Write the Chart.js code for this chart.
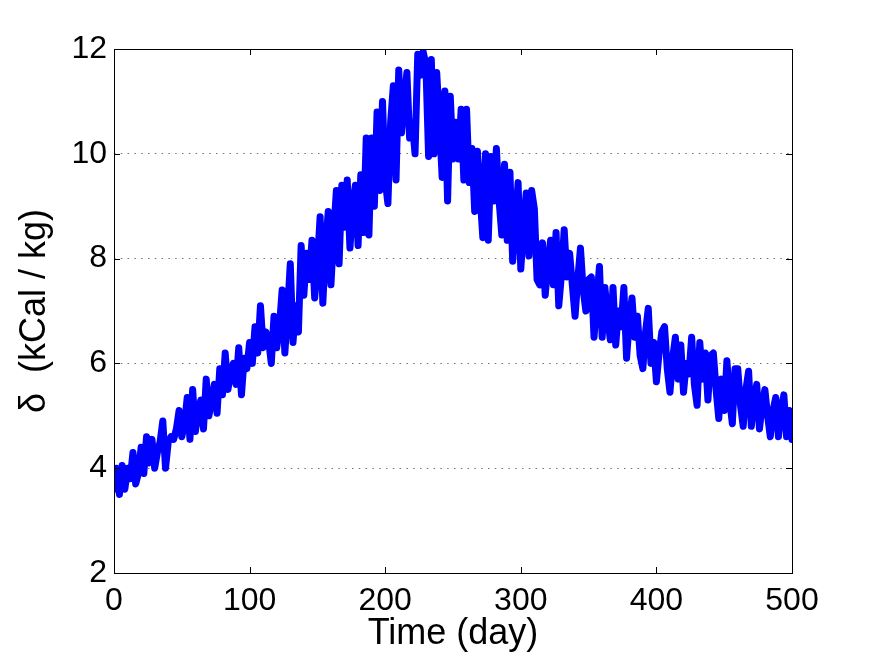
<!DOCTYPE html>
<html>
<head>
<meta charset="utf-8">
<script src="https://cdn.jsdelivr.net/npm/chart.js@4"></script>
<style>
  html, body { margin: 0; padding: 0; background: #fff; }
  #wrap { width: 873px; height: 657px; }
</style>
</head>
<body>
<div id="wrap"><canvas id="c" width="873" height="657"></canvas></div>
<script>
const days = [
  0,2,4,6,8,10,12,14,16,18,20,22,24,26,28,30,32,34,36,38,40,42,44,46,48,
  50,52,54,56,58,60,62,64,66,68,70,72,74,76,78,80,82,84,86,88,90,92,94,96,98,
  100,102,104,106,108,110,112,114,116,118,120,122,124,126,128,130,132,134,136,138,140,142,144,146,148,
  150,152,154,156,158,160,162,164,166,168,170,172,174,176,178,180,182,184,186,188,190,192,194,196,198,
  200,202,204,206,208,210,212,214,216,218,220,222,224,226,228,230,232,234,236,238,240,242,244,246,248,
  250,252,254,256,258,260,262,264,266,268,270,272,274,276,278,280,282,284,286,288,290,292,294,296,298,
  300,302,304,306,308,310,312,314,316,318,320,322,324,326,328,330,332,334,336,338,340,342,344,346,348,
  350,352,354,356,358,360,362,364,366,368,370,372,374,376,378,380,382,384,386,388,390,392,394,396,398,
  400,402,404,406,408,410,412,414,416,418,420,422,424,426,428,430,432,434,436,438,440,442,444,446,448,
  450,452,454,456,458,460,462,464,466,468,470,472,474,476,478,480,482,484,486,488,490,492,494,496,498,
  500
];
const delta = [
  3.6,4.0,3.5,4.05,3.6,4.0,3.8,4.3,3.7,3.9,4.4,3.9,4.6,4.1,4.55,4.0,4.3,4.5,4.9,4.0,4.5,4.6,4.55,4.75,5.1,
  4.6,4.85,5.35,4.55,5.5,4.7,5.1,5.3,4.75,5.7,5.0,5.3,5.6,5.05,5.9,5.4,6.2,5.5,5.8,6.0,5.6,6.3,5.4,6.1,5.9,
  6.4,6.0,6.7,6.2,7.1,6.3,6.6,6.45,6.0,6.9,6.3,6.7,7.4,6.2,7.0,7.9,6.4,7.1,6.6,8.25,7.3,8.1,7.6,8.35,7.25,
  7.9,8.8,7.15,8.2,8.9,7.5,8.5,9.3,7.9,9.4,8.6,9.5,8.2,9.0,9.4,8.25,9.6,8.5,10.3,8.45,10.3,9.0,10.8,9.3,11.0,
  9.5,9.05,10.6,11.3,9.5,11.6,10.4,11.0,11.55,10.3,10.6,10.0,11.9,11.5,11.95,11.7,9.95,11.8,10.0,11.55,10.6,9.55,11.2,9.1,11.1,
  9.9,10.6,9.9,10.85,9.5,10.85,9.45,10.1,8.9,10.05,9.2,8.4,10.0,8.35,9.95,9.1,10.1,9.1,8.45,9.8,8.35,9.65,7.95,8.7,9.45,
  7.8,8.6,9.25,8.05,9.3,8.95,7.6,7.5,8.3,7.3,7.9,8.35,7.5,8.5,7.1,7.7,8.55,7.65,8.1,7.5,6.9,7.6,8.2,7.4,7.0,
  7.6,7.65,6.5,7.2,7.85,6.5,7.45,6.9,6.45,7.45,6.35,7.0,6.7,7.45,6.1,6.8,7.25,6.5,6.9,6.15,5.9,6.6,7.05,6.0,6.4,
  5.65,6.2,6.6,6.7,5.9,5.45,6.1,6.5,5.7,6.35,5.45,6.0,5.8,6.5,5.6,5.2,6.4,5.7,6.2,5.3,6.15,6.2,5.5,4.95,5.7,
  5.1,6.05,5.3,4.85,5.9,5.9,5.2,4.8,5.5,5.85,4.8,5.3,5.6,4.75,5.2,5.5,5.0,4.6,5.1,5.35,4.6,5.1,5.4,4.6,5.1,
  4.55
];
const xTicks = [0, 100, 200, 300, 400, 500];
const yTicks = [2, 4, 6, 8, 10, 12];
const xTitle = 'Time (day)';
const yTitle = 'δ  (kCal / kg)';

const points = days.map((d, i) => ({ x: d, y: delta[i] }));
const FONT = "'Liberation Sans', Arial, Helvetica, sans-serif";

const boxPlugin = {
  id: 'box',
  afterDatasetsDraw(chart) {
    const { ctx, chartArea: a, scales } = chart;
    ctx.save();
    ctx.strokeStyle = '#000';
    ctx.lineWidth = 1;
    const L = 6;
    ctx.beginPath();
    xTicks.forEach(v => {
      const px = Math.round(scales.x.getPixelForValue(v)) + 0.5;
      ctx.moveTo(px, a.bottom); ctx.lineTo(px, a.bottom - L);
      ctx.moveTo(px, a.top); ctx.lineTo(px, a.top + L);
    });
    yTicks.forEach(v => {
      const py = Math.round(scales.y.getPixelForValue(v)) + 0.5;
      ctx.moveTo(a.left, py); ctx.lineTo(a.left + L, py);
      ctx.moveTo(a.right, py); ctx.lineTo(a.right - L, py);
    });
    ctx.stroke();
    ctx.strokeRect(Math.round(a.left) + 0.5, Math.round(a.top) + 0.5,
                   Math.round(a.right - a.left), Math.round(a.bottom - a.top));
    ctx.restore();
  }
};

new Chart(document.getElementById('c'), {
  type: 'line',
  data: {
    datasets: [{
      data: points,
      borderColor: '#0000ff',
      borderWidth: 7,
      pointRadius: 0,
      tension: 0,
      fill: false,
      borderJoinStyle: 'round',
      borderCapStyle: 'round'
    }]
  },
  options: {
    responsive: false,
    animation: false,
    devicePixelRatio: 1,
    layout: { padding: { left: 0, top: 49, right: 81, bottom: 0 } },
    plugins: { legend: { display: false }, tooltip: { enabled: false } },
    scales: {
      x: {
        type: 'linear',
        min: 0, max: 500,
        afterBuildTicks: s => { s.ticks = xTicks.map(v => ({ value: v })); },
        afterFit: s => { s.height = 84; },
        grid: { display: true, drawOnChartArea: false, drawTicks: false, color: 'rgba(0,0,0,0)' },
        border: { display: false },
        ticks: { color: '#000', font: { family: FONT, size: 32 }, padding: 9, maxRotation: 0, autoSkip: false },
        title: { display: true, text: xTitle, color: '#000', font: { family: FONT, size: 36 }, padding: { top: 0, bottom: 1 } }
      },
      y: {
        type: 'linear',
        min: 2, max: 12,
        afterBuildTicks: s => { s.ticks = yTicks.map(v => ({ value: v })); },
        afterFit: s => { s.width = 114; },
        grid: {
          display: true, drawOnChartArea: true, drawTicks: false, lineWidth: 1,
          color: ctx => (ctx.tick && (ctx.tick.value === 2 || ctx.tick.value === 12)) ? 'rgba(0,0,0,0)' : 'rgba(0,0,0,0.55)'
        },
        border: { display: false, dash: [1.5, 5.3] },
        ticks: { color: '#000', font: { family: FONT, size: 32 }, padding: 7, autoSkip: false },
        title: { display: true, text: yTitle, color: '#000', font: { family: FONT, size: 36 }, padding: { top: 13, bottom: 0 } }
      }
    }
  },
  plugins: [boxPlugin]
});
</script>
</body>
</html>
